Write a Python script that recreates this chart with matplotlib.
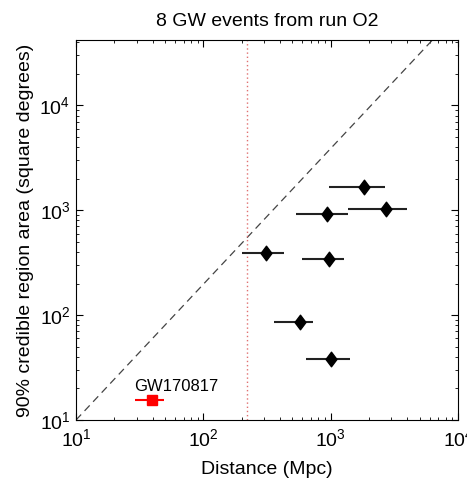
import matplotlib
matplotlib.use("Agg")
import matplotlib.pyplot as plt
from matplotlib.path import Path
import numpy as np

plt.rcParams['font.family'] = ['Liberation Sans', 'DejaVu Sans']
plt.rcParams['mathtext.fontset'] = 'custom'
plt.rcParams['mathtext.rm'] = 'Liberation Sans'
plt.rcParams['mathtext.it'] = 'Liberation Sans'

# Data (distance in Mpc, 90% credible area in deg^2)
bbh_names = ["GW170104", "GW170608", "GW170729", "GW170809", "GW170814", "GW170818", "GW170823"]
bbh_dist = [940, 313, 2700, 965, 570, 1005, 1820]
bbh_dist_lo = [530, 203, 1370, 596, 357, 640, 970]
bbh_dist_hi = [1370, 428, 3990, 1275, 722, 1410, 2650]
bbh_area = [920, 395, 1020, 340, 86, 38, 1650]

bns_name = "GW170817"
bns_dist = [39.5]
bns_dist_lo = [29]
bns_dist_hi = [49]
bns_area = [15.5]

horizon_dist = 222
diag_x = [10, 6300]
diag_y = [10, 42000]

xlim = (10, 1e4)
ylim = (10, 4.2e4)

fig = plt.figure(figsize=(4.67, 4.82), dpi=100)
ax = fig.add_axes([76/467, 1 - 420/482, 382/467, 380/482])
ax.set_xscale('log')
ax.set_yscale('log')

ax.plot(diag_x, diag_y, linestyle=(0, (6, 4)), color='#444444', lw=0.9)
ax.axvline(horizon_dist, color='#e07070', linestyle=(0, (1, 2)), lw=1.0)

diamond = Path([(0, 1), (0.75, 0), (0, -1), (-0.75, 0), (0, 1)],
               [Path.MOVETO, Path.LINETO, Path.LINETO, Path.LINETO, Path.CLOSEPOLY])

d = np.array(bbh_dist)
xerr = [d - np.array(bbh_dist_lo), np.array(bbh_dist_hi) - d]
ax.errorbar(bbh_dist, bbh_area, xerr=xerr, fmt='none', ecolor='#222222', elinewidth=1.5, capsize=0)
ax.plot(bbh_dist, bbh_area, linestyle='none', marker=diamond, markersize=10.5,
        color='black')

b = np.array(bns_dist)
bxerr = [b - np.array(bns_dist_lo), np.array(bns_dist_hi) - b]
ax.errorbar(bns_dist, bns_area, xerr=bxerr, fmt='none', ecolor='red', elinewidth=1.5, capsize=0)
ax.plot(bns_dist, bns_area, linestyle='none', marker='s', markersize=7.2, color='red')
ax.text(28.5, 17.6, bns_name, fontsize=12, ha='left', va='bottom')

ax.set_xlim(*xlim)
ax.set_ylim(*ylim)
ax.set_xticks([10, 100, 1000, 10000])
ax.set_xticklabels([r'$10^{1}$', r'$10^{2}$', r'$10^{3}$', r'$10^{4}$'])
ax.set_yticks([10, 100, 1000, 10000])
ax.set_yticklabels([r'$10^{1}$', r'$10^{2}$', r'$10^{3}$', r'$10^{4}$'])

ax.tick_params(which='both', direction='in', top=True, right=True, labelsize=14)
ax.tick_params(which='major', length=5, width=0.8)
ax.tick_params(which='minor', length=2.5, width=0.6)
ax.tick_params(axis='x', pad=6)
ax.tick_params(axis='y', pad=4)
for s in ax.spines.values():
    s.set_linewidth(0.8)

ax.set_xlabel('Distance (Mpc)', fontsize=14, labelpad=8)
ax.set_ylabel('90% credible region area (square degrees)', fontsize=14, labelpad=4)
ax.set_title('8 GW events from run O2', fontsize=14, pad=10)

fig.savefig('out.png', dpi=100)
